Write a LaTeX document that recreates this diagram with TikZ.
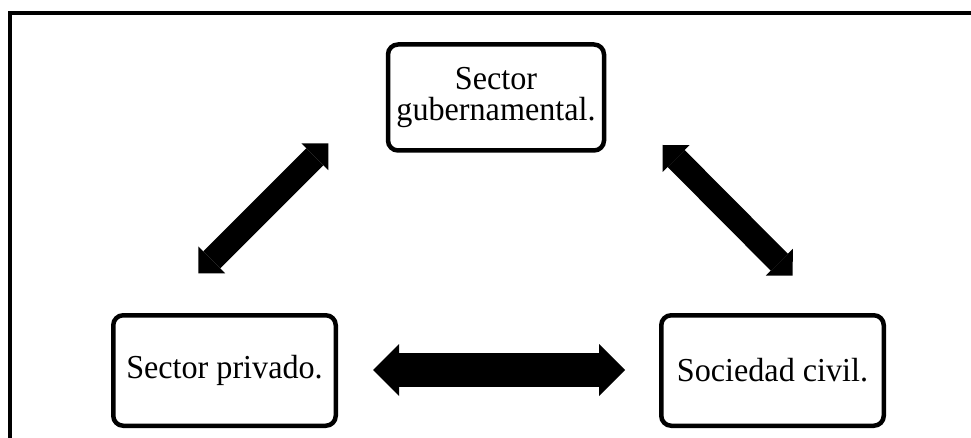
\documentclass[tikz,border=0pt]{standalone}
\usepackage{fontspec}
\setmainfont[FakeStretch=0.96]{Liberation Serif}
\usetikzlibrary{arrows.meta}
\begin{document}
\begin{tikzpicture}[x=1pt,y=1pt,
  boxnode/.style={draw=black, line width=4.5pt, rounded corners=10pt, fill=white,
    align=center, inner sep=0pt, font=\fontsize{33.5}{31}\selectfont},
  bigarrow/.style={line width=34pt, {Triangle[width=52pt,length=26pt,line width=0pt]}-{Triangle[width=52pt,length=26pt,line width=0pt]}},
  diagarrow/.style={line width=24pt, {Triangle[width=38pt,length=19pt,line width=0pt]}-{Triangle[width=38pt,length=19pt,line width=0pt]}}
]
\useasboundingbox (0,0) rectangle (971,437);
\clip (0,0) rectangle (971,437);
\fill[white] (0,0) rectangle (971,437);
\draw[line width=4pt] (9.5,-20) -- (9.5,424) -- (1000,424);

\node[boxnode, minimum width=216pt, minimum height=106pt] (gov) at (496,339.5) {Sector\\gubernamental.};
\node[boxnode, minimum width=222.5pt, minimum height=110.5pt] (priv) at (224.5,66.5) {Sector privado.};
\node[boxnode, minimum width=222.5pt, minimum height=110.5pt] (soc) at (772.5,66.5) {Sociedad civil.};

\coordinate (h1) at (373,67);
\coordinate (h2) at (625,67);
\coordinate (l1) at (198.3,163.7);
\coordinate (l2) at (328.3,293.7);
\coordinate (r1) at (662.7,292);
\coordinate (r2) at (792.7,161.3);

\draw[bigarrow] (h1) -- (h2);
\draw[diagarrow] (l1) -- (l2);
\draw[diagarrow] (r1) -- (r2);
\end{tikzpicture}
\end{document}
